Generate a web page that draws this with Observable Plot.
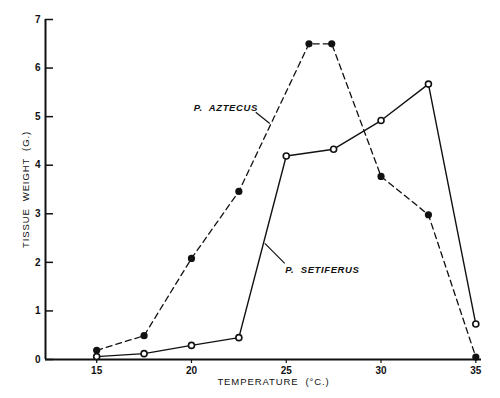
<!DOCTYPE html>
<html>
<head>
<meta charset="utf-8">
<script src="https://cdn.jsdelivr.net/npm/d3@7"></script>
<script src="https://cdn.jsdelivr.net/npm/@observablehq/plot@0.6"></script>
<style>
  html, body { margin: 0; padding: 0; background: #fff; }
  .spaced text { letter-spacing: 0.9px; }
  .ital text { letter-spacing: 0.6px; }
</style>
</head>
<body>
<div id="chart"></div>
<script>
// Data
const setiferusTemp   = [15, 17.5, 20, 22.5, 25, 27.5, 30, 32.5, 35];
const setiferusWeight = [0.06, 0.12, 0.29, 0.45, 4.19, 4.33, 4.92, 5.67, 0.73];
const aztecusTemp     = [15, 17.5, 20, 22.5, 26.2, 27.4, 30, 32.5, 35];
const aztecusWeight   = [0.19, 0.49, 2.08, 3.46, 6.5, 6.5, 3.77, 2.98, 0.05];

const xTicks = [15, 20, 25, 30, 35];
const yTicks = [0, 1, 2, 3, 4, 5, 6, 7];
const xTitle = "TEMPERATURE  (°C.)";
const yTitle = "TISSUE  WEIGHT  (G.)";

// Series labels with leader lines (data coordinates)
const labelNames = ["P.  AZTECUS", "P.  SETIFERUS"];
const labelX = [20.12, 24.95];
const labelY = [5.17, 1.85];
const leaderX1 = [23.39, 23.87];
const leaderY1 = [5.09, 2.39];
const leaderX2 = [24.13, 24.92];
const leaderY2 = [4.86, 1.98];

const setiferus = setiferusTemp.map((t, i) => ({t, w: setiferusWeight[i]}));
const aztecus = aztecusTemp.map((t, i) => ({t, w: aztecusWeight[i]}));
const labels = labelNames.map((name, i) => ({name, x: labelX[i], y: labelY[i]}));
const leaders = labelNames.map((name, i) => ({x1: leaderX1[i], y1: leaderY1[i], x2: leaderX2[i], y2: leaderY2[i]}));

const font = "'Liberation Sans', Arial, sans-serif";
const W = 500, ML = 45, MR = 19;

const chart = Plot.plot({
  width: W,
  height: 398,
  marginLeft: ML,
  marginRight: MR,
  marginTop: 19,
  marginBottom: 39,
  style: {fontFamily: font, fontSize: "10px", color: "#111", background: "#fff"},
  x: {domain: [12.3, 35.3]},
  y: {domain: [0, 7]},
  marks: [
    // inward y tick marks (short, from the axis to the right)
    Plot.tickY(yTicks, {y: d => d, stroke: "#111", strokeWidth: 1.5, insetRight: W - ML - MR - 8}),
    // axis lines
    Plot.ruleX([12.3], {y1: 0, y2: 7, stroke: "#111", strokeWidth: 2}),
    Plot.ruleY([0], {stroke: "#111", strokeWidth: 2}),
    Plot.axisX({ticks: xTicks, tickSize: 4, tickPadding: 3, label: null, fontWeight: "bold", stroke: "#111", strokeWidth: 1.2}),
    Plot.axisY({ticks: yTicks, tickSize: 0, tickPadding: 5, tickFormat: d3.format("d"), label: null, fontWeight: "bold"}),
    // axis titles
    Plot.text([xTitle], {frameAnchor: "bottom", dy: 25, dx: 10, fontSize: 9.5, fill: "#111", className: "spaced"}),
    Plot.text([yTitle], {frameAnchor: "left", textAnchor: "middle", dx: -20, rotate: -90, fontSize: 9.5, fill: "#111", className: "spaced"}),
    // series
    Plot.line(aztecus, {x: "t", y: "w", stroke: "#111", strokeWidth: 1.3, strokeDasharray: "6,4"}),
    Plot.line(setiferus, {x: "t", y: "w", stroke: "#111", strokeWidth: 1.4}),
    Plot.dot(aztecus, {x: "t", y: "w", r: 3.6, fill: "#111", stroke: "none"}),
    Plot.dot(setiferus, {x: "t", y: "w", r: 3, fill: "#fff", stroke: "#111", strokeWidth: 1.6}),
    // labels
    Plot.link(leaders, {x1: "x1", y1: "y1", x2: "x2", y2: "y2", stroke: "#111", strokeWidth: 1.2}),
    Plot.text(labels, {x: "x", y: "y", text: "name", textAnchor: "start", fontStyle: "italic", fontWeight: "bold", fontSize: 9.5, fill: "#111", className: "ital"})
  ]
});
document.getElementById("chart").appendChild(chart);
</script>
</body>
</html>
